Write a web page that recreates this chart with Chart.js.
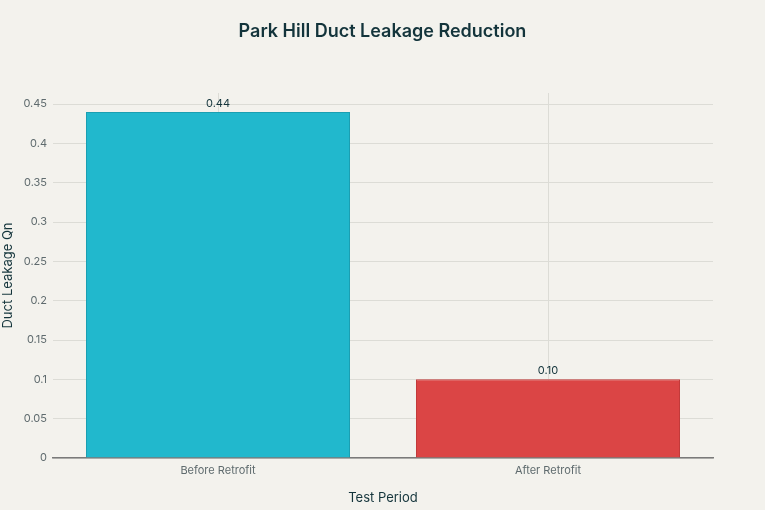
<!DOCTYPE html>
<html lang="en">
<head>
  <meta charset="UTF-8" />
  <title>Park Hill Duct Leakage Reduction</title>
  <script src="https://cdn.jsdelivr.net/npm/chart.js"></script>
  <style>
    html, body { margin: 0; padding: 0; background: #f3f2ed; }
    #wrap { width: 765px; height: 510px; }
  </style>
</head>
<body>
  <div id="wrap"><canvas id="barChart" width="765" height="510"></canvas></div>

  <script>
    const categories = ["Before Retrofit", "After Retrofit"];
    const leakage = [0.44, 0.10];
    const valueLabels = ["0.44", "0.10"];
    const yTicks = [0, 0.05, 0.1, 0.15, 0.2, 0.25, 0.3, 0.35, 0.4, 0.45];
    const barColors = ["#21b8cd", "#db4545"];
    const borderColors = ["#1a9fb2", "#c23a3a"];

    const font = "Inter, 'Noto Sans', sans-serif";
    const ctx = document.getElementById("barChart").getContext("2d");

    // chart title + value labels drawn on top
    const extras = {
      id: "extras",
      beforeDraw(chart) {
        const c = chart.ctx;
        c.save();
        c.fillStyle = "#f3f2ed";
        c.fillRect(0, 0, chart.width, chart.height);
        c.restore();
      },
      afterDatasetsDraw(chart) {
        const c = chart.ctx;
        c.save();
        c.fillStyle = "#13343b";
        c.font = "600 18px " + font;
        c.textAlign = "center";
        c.textBaseline = "middle";
        c.fillText("Park Hill Duct Leakage Reduction", chart.width / 2, 32);

        c.font = "11px " + font;
        c.textBaseline = "bottom";
        chart.getDatasetMeta(0).data.forEach((bar, i) => {
          c.fillText(valueLabels[i], bar.x, bar.y - 3);
        });
        c.restore();
      }
    };

    new Chart(ctx, {
      type: "bar",
      data: {
        labels: categories,
        datasets: [{
          data: leakage,
          backgroundColor: barColors,
          borderColor: borderColors,
          borderWidth: 1,
          barPercentage: 0.8,
          categoryPercentage: 1
        }]
      },
      options: {
        responsive: false,
        animation: false,
        devicePixelRatio: 1,
        layout: { padding: { top: 93, right: 52, left: 0, bottom: 0 } },
        plugins: {
          legend: { display: false },
          tooltip: { enabled: false }
        },
        scales: {
          x: {
            afterFit: s => { s.height = 52; },
            grid: { offset: false, color: "#dcdcd6", drawTicks: false },
            border: { color: "#7a7a7a", width: 1.5 },
            ticks: { color: "#5f6b6e", font: { family: font, size: 11 }, padding: 6 },
            title: { display: true, text: "Test Period", color: "#13343b", font: { family: font, size: 13 }, padding: { top: 10 } }
          },
          y: {
            min: 0,
            max: 0.464,
            afterFit: s => { s.width = 53; },
            afterBuildTicks: s => { s.ticks = yTicks.map(v => ({ value: v })); },
            grid: { color: "#dcdcd6", drawTicks: false },
            border: { display: false },
            ticks: {
              color: "#5f6b6e",
              font: { family: font, size: 11 },
              padding: 6,
              callback: v => String(v)
            },
            title: { display: true, text: "Duct Leakage Qn", color: "#13343b", font: { family: font, size: 13 }, padding: 0 }
          }
        }
      },
      plugins: [extras]
    });
  </script>
</body>
</html>
